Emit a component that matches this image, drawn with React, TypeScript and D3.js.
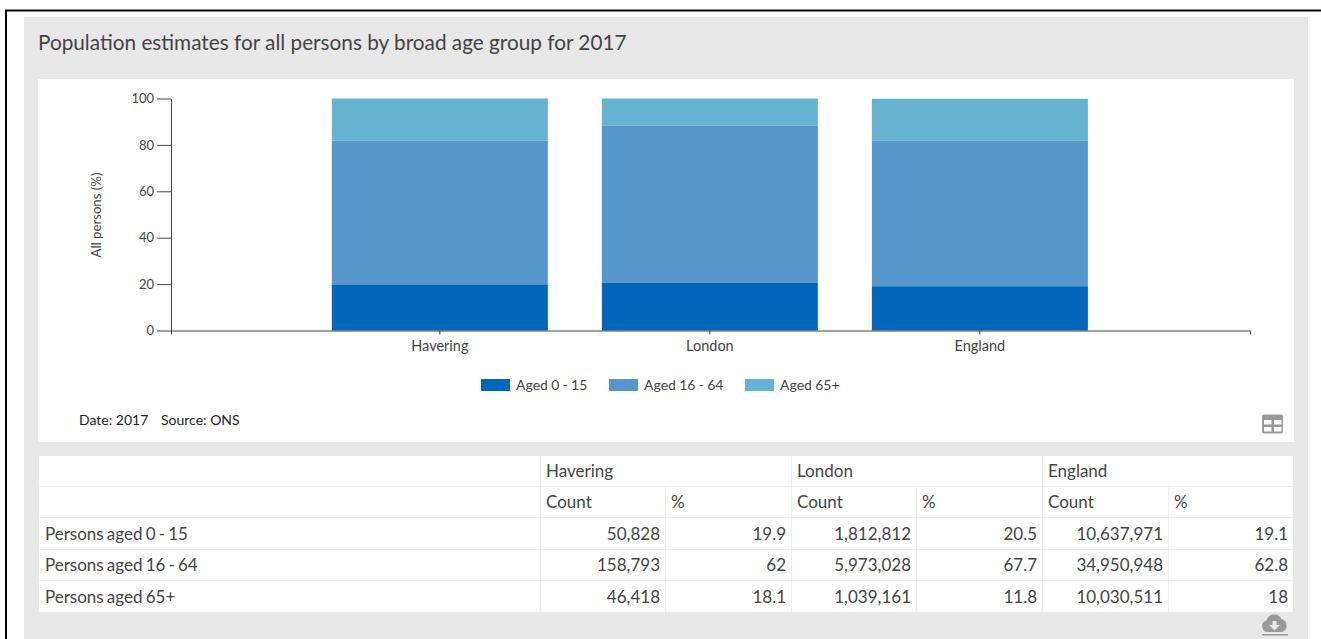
import * as d3 from "d3";
import { useEffect, useRef } from "react";

const areas = ["Havering", "London", "England"];
const groups = ["Aged 0 - 15", "Aged 16 - 64", "Aged 65+"];
const rowLabels = ["Persons aged 0 - 15", "Persons aged 16 - 64", "Persons aged 65+"];
const colors = ["#0267ba", "#5596cd", "#66b3d1"];

const pct0to15 = [19.9, 20.5, 19.1];
const pct16to64 = [62, 67.7, 62.8];
const pct65plus = [18.1, 11.8, 18];

const count0to15 = ["50,828", "1,812,812", "10,637,971"];
const count16to64 = ["158,793", "5,973,028", "34,950,948"];
const count65plus = ["46,418", "1,039,161", "10,030,511"];

const yTicks = [0, 20, 40, 60, 80, 100];
const font = "Lato, 'Open Sans', sans-serif";

export default function App() {
  const ref = useRef<SVGSVGElement | null>(null);

  useEffect(() => {
    const svg = d3.select(ref.current as SVGSVGElement);
    svg.selectAll("*").remove();
    svg.attr("font-family", font);

    // page frame + panels
    svg.append("rect").attr("width", 1321).attr("height", 639).attr("fill", "#fff");
    svg.append("path").attr("d", "M6 639V10.5H1321").attr("fill", "none").attr("stroke", "#000").attr("stroke-width", 2);
    svg.append("rect").attr("x", 24).attr("y", 17).attr("width", 1284).attr("height", 622).attr("fill", "#e8e8e8");
    svg.append("rect").attr("x", 38).attr("y", 79).attr("width", 1256).attr("height", 363).attr("fill", "#fff");

    svg
      .append("text")
      .attr("x", 38)
      .attr("y", 50)
      .attr("font-size", 20.75)
      .attr("fill", "#444")
      .text("Population estimates for all persons by broad age group for 2017");

    // chart
    const x = d3.scaleBand<string>().domain(areas).range([171, 1250]).paddingInner(0.2).paddingOuter(0.598).align(0.498);
    const y = d3.scaleLinear().domain([0, 100]).range([330.5, 98.5]);

    const rows = areas.map((a, i) => ({ area: a, g0: pct0to15[i], g1: pct16to64[i], g2: pct65plus[i] }));
    const stacked = d3.stack<(typeof rows)[number]>().keys(["g0", "g1", "g2"])(rows);

    stacked.forEach((layer, k) => {
      svg
        .append("g")
        .selectAll("rect")
        .data(layer)
        .enter()
        .append("rect")
        .attr("x", (d) => x(d.data.area) as number)
        .attr("y", (d) => y(d[1]))
        .attr("width", x.bandwidth())
        .attr("height", (d) => y(d[0]) - y(d[1]))
        .attr("fill", colors[k]);
    });

    const yAxis = svg
      .append("g")
      .attr("transform", "translate(171,0)")
      .call(d3.axisLeft(y).tickValues(yTicks).tickSizeInner(14).tickSizeOuter(0).tickPadding(3));
    yAxis.selectAll("text").attr("font-size", 13).attr("font-family", font).attr("fill", "#444");
    yAxis.selectAll("line,path").attr("stroke", "#444");

    const xAxis = svg
      .append("g")
      .attr("transform", "translate(0,330.5)")
      .call(d3.axisBottom(x).tickSizeInner(4).tickSizeOuter(4).tickPadding(6));
    xAxis.selectAll("text").attr("font-size", 14.5).attr("font-family", font).attr("fill", "#444");
    xAxis.selectAll("line,path").attr("stroke", "#444");

    svg
      .append("text")
      .attr("transform", "translate(101,215) rotate(-90)")
      .attr("text-anchor", "middle")
      .attr("font-size", 13.2)
      .attr("fill", "#444")
      .text("All persons (%)");

    // legend
    const legendX = [481, 609, 745];
    groups.forEach((g, i) => {
      svg.append("rect").attr("x", legendX[i]).attr("y", 379).attr("width", 29).attr("height", 12).attr("fill", colors[i]);
      svg
        .append("text")
        .attr("x", legendX[i] + 35)
        .attr("y", 390)
        .attr("font-size", 14)
        .attr("word-spacing", -0.3)
        .attr("fill", "#444")
        .text(g);
    });

    svg.append("text").attr("x", 79).attr("y", 425).attr("font-size", 14).attr("fill", "#222").text("Date: 2017");
    svg.append("text").attr("x", 161).attr("y", 425).attr("font-size", 14).attr("fill", "#222").text("Source: ONS");

    // table icon
    const icon = svg.append("g").attr("fill", "#999");
    icon.append("rect").attr("x", 1262).attr("y", 414.5).attr("width", 21).attr("height", 19).attr("rx", 2);
    [
      [1264, 420],
      [1274, 420],
      [1264, 427],
      [1274, 427],
    ].forEach(([ix, iy]) => {
      icon.append("rect").attr("x", ix).attr("y", iy).attr("width", 7.5).attr("height", 4.5).attr("fill", "#fff");
    });

    // table
    const table = svg.append("g");
    table.append("rect").attr("x", 39).attr("y", 456).attr("width", 1254).attr("height", 156).attr("fill", "#fff");

    const colEdges = [540, 665, 791, 916, 1042, 1168, 1293];
    const rowEdges = [456, 487, 518, 550, 581, 612];
    const line = "#efefef";

    rowEdges.slice(1, -1).forEach((ry) => {
      table.append("line").attr("x1", 39).attr("x2", 1293).attr("y1", ry - 0.5).attr("y2", ry - 0.5).attr("stroke", line);
    });
    [0, 2, 4].forEach((c) => {
      const cx = colEdges[c] + 0.5;
      table.append("line").attr("x1", cx).attr("x2", cx).attr("y1", 456).attr("y2", 612).attr("stroke", line);
    });
    [1, 3, 5].forEach((c) => {
      const cx = colEdges[c] + 0.5;
      table.append("line").attr("x1", cx).attr("x2", cx).attr("y1", 487).attr("y2", 612).attr("stroke", line);
    });

    const cell = (tx: number, ty: number, s: string, anchor = "start") =>
      table
        .append("text")
        .attr("x", tx)
        .attr("y", ty)
        .attr("text-anchor", anchor)
        .attr("font-size", 17)
        .attr("word-spacing", -1.2)
        .attr("fill", "#444")
        .text(s);

    const baselines = [477, 508, 540, 571, 603];
    areas.forEach((a, i) => {
      const left = colEdges[i * 2];
      cell(left + 6, baselines[0], a);
      cell(left + 6, baselines[1], "Count");
      cell(colEdges[i * 2 + 1] + 6, baselines[1], "%");
    });

    const counts = [count0to15, count16to64, count65plus];
    const pcts = [pct0to15, pct16to64, pct65plus];
    rowLabels.forEach((label, r) => {
      const by = baselines[r + 2];
      cell(45, by, label);
      areas.forEach((_, i) => {
        cell(colEdges[i * 2 + 1] - 5, by, counts[r][i], "end");
        cell(colEdges[i * 2 + 2] - 5, by, String(pcts[r][i]), "end");
      });
    });

    // download icon
    const dl = svg.append("g");
    dl.append("path")
      .attr("d", "M1268 632a5.8 5.8 0 0 1 -1.5 -11.4a8 8 0 0 1 15 -1.6a6.8 6.8 0 0 1 0.5 13z")
      .attr("fill", "#999");
    dl.append("path").attr("d", "M1272.5 621h4v4h3.5l-5.5 5.5l-5.5 -5.5h3.5z").attr("fill", "#e8e8e8");
    dl.append("rect").attr("x", 1262).attr("y", 634).attr("width", 26).attr("height", 1.5).attr("fill", "#999");
  }, []);

  return <svg ref={ref} width={1321} height={639} style={{ position: "fixed", left: 0, top: 0 }} />;
}
